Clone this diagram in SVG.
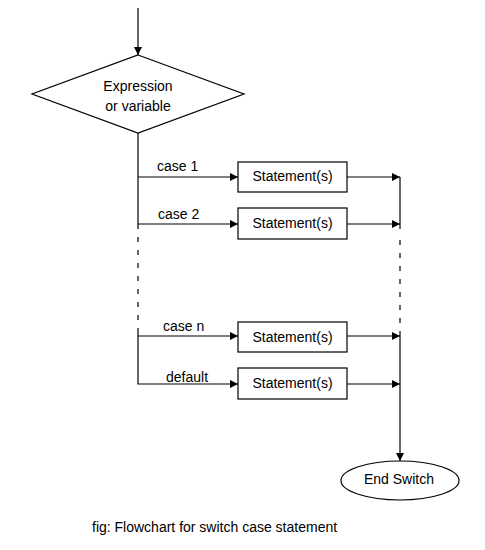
<svg xmlns="http://www.w3.org/2000/svg" width="485" height="550" viewBox="0 0 485 550">
<style>
.t{font-family:"Liberation Sans",Arial,sans-serif;font-size:14px;fill:#000}
.c{text-anchor:middle}
.s{fill:#fff;stroke:#000;stroke-width:1.2}
.l{fill:none;stroke:#000;stroke-width:1.2}
.d{fill:none;stroke:#000;stroke-width:1.2;stroke-dasharray:5 8}
</style>
<defs>
<marker id="a" markerWidth="8" markerHeight="8" refX="8" refY="4" orient="auto" markerUnits="userSpaceOnUse">
<path d="M0,0 L8,4 L0,8 z" fill="#000"/>
</marker>
</defs>
<rect width="485" height="550" fill="#fff"/>
<g id="connectors">
<line class="l" x1="138" y1="8" x2="138" y2="55" marker-end="url(#a)"/>
<polyline class="l" points="138,133 138,229"/>
<line class="d" x1="138" y1="237" x2="138" y2="332"/>
<polyline class="l" points="138,332 138,384 238,384" marker-end="url(#a)"/>
<line class="l" x1="138" y1="177" x2="238" y2="177" marker-end="url(#a)"/>
<line class="l" x1="138" y1="224" x2="238" y2="224" marker-end="url(#a)"/>
<line class="l" x1="138" y1="336" x2="238" y2="336" marker-end="url(#a)"/>
<line class="l" x1="347" y1="177" x2="400" y2="177" marker-end="url(#a)"/>
<line class="l" x1="347" y1="224" x2="400" y2="224" marker-end="url(#a)"/>
<line class="l" x1="347" y1="336" x2="400" y2="336" marker-end="url(#a)"/>
<line class="l" x1="347" y1="384" x2="400" y2="384" marker-end="url(#a)"/>
<line class="l" x1="400" y1="177" x2="400" y2="229"/>
<line class="d" x1="400" y1="240" x2="400" y2="332"/>
<line class="l" x1="400" y1="332" x2="400" y2="461" marker-end="url(#a)"/>
<text class="t" x="157" y="171">case 1</text>
<text class="t" x="158" y="219">case 2</text>
<text class="t" x="163" y="331">case n</text>
<text class="t" x="166" y="382">default</text>
</g>
<g id="decision">
<polygon class="s" points="138,55 244,94 138,133 32,94"/>
<text class="t c" x="138" y="91">Expression</text>
<text class="t c" x="138" y="111">or variable</text>
</g>
<g id="stmt1">
<rect class="s" x="238" y="162" width="109" height="30"/>
<text class="t c" x="292.5" y="181">Statement(s)</text>
</g>
<g id="stmt2">
<rect class="s" x="238" y="208" width="109" height="31"/>
<text class="t c" x="292.5" y="228">Statement(s)</text>
</g>
<g id="stmt3">
<rect class="s" x="238" y="322" width="109" height="30"/>
<text class="t c" x="292.5" y="342">Statement(s)</text>
</g>
<g id="stmt4">
<rect class="s" x="238" y="368" width="109" height="31"/>
<text class="t c" x="292.5" y="388">Statement(s)</text>
</g>
<g id="end">
<ellipse class="s" cx="400" cy="480.5" rx="59" ry="19.5"/>
<text class="t c" x="399" y="484">End Switch</text>
</g>
<text class="t" x="92" y="532">fig: Flowchart for switch case statement</text>
</svg>
